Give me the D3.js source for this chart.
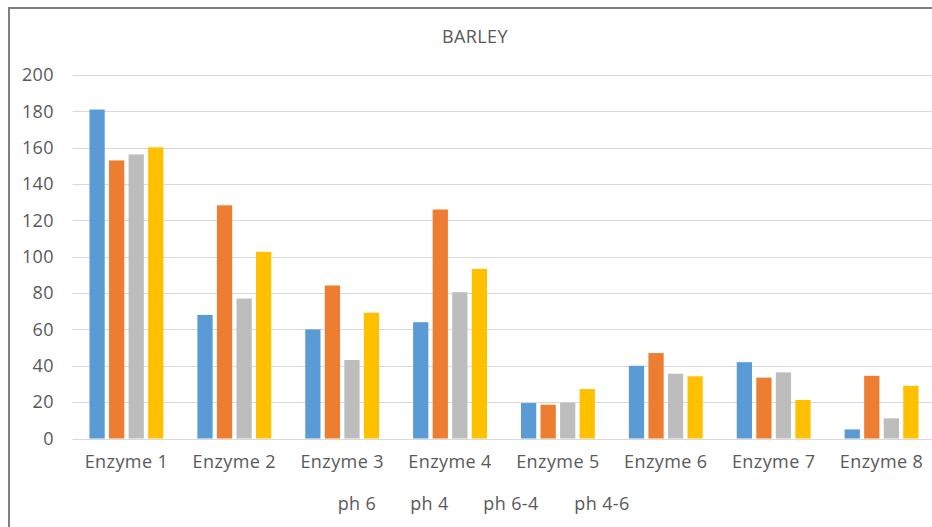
<!DOCTYPE html>
<html>
<head>
<meta charset="utf-8">
<script src="https://cdn.jsdelivr.net/npm/d3@7"></script>
<style>
  html, body { margin: 0; padding: 0; background: #fff; }
  svg { display: block; font-family: "Open Sans", sans-serif; }
</style>
</head>
<body>
<svg id="chart" width="932" height="527"></svg>
<script>
// Barley enzyme activity by pH treatment
const categories = ["Enzyme 1", "Enzyme 2", "Enzyme 3", "Enzyme 4", "Enzyme 5", "Enzyme 6", "Enzyme 7", "Enzyme 8"];
const seriesNames = ["ph 6", "ph 4", "ph 6-4", "ph 4-6"];
const ph6  = [181, 68, 60, 64, 19.5, 40, 42, 5];
const ph4  = [153, 128.3, 84.2, 126, 18.6, 47, 33.5, 34.5];
const ph64 = [156.3, 77, 43.2, 80.5, 19.7, 35.6, 36.4, 11.1];
const ph46 = [160.2, 102.7, 69.2, 93.3, 27.2, 34.2, 21.2, 29];
const yTicks = [0, 20, 40, 60, 80, 100, 120, 140, 160, 180, 200];
const colors = ["#5B9BD5", "#ED7D31", "#BDBDBD", "#FFC000"];
const title = "BARLEY";

const seriesValues = [ph6, ph4, ph64, ph46];
const svg = d3.select("#chart");
const textColor = "#595959";
const fontSize = 18;
const tracking = 0.4;

// Outer chart frame (left and top edges visible)
svg.append("path")
  .attr("d", "M9,527 V8 H932")
  .attr("fill", "none")
  .attr("stroke", "#7f7f7f")
  .attr("stroke-width", 2);

const x = d3.scaleBand().domain(categories).range([72.5, 935.5]).paddingInner(0.315).paddingOuter(0.1575);
const xs = d3.scaleBand().domain(d3.range(seriesNames.length)).range([0, x.bandwidth()]).paddingInner(0.22);
const y = d3.scaleLinear().domain([0, 200]).range([438.5, 75]);

// Gridlines
svg.append("g")
  .selectAll("line")
  .data(yTicks)
  .join("line")
  .attr("x1", 72.5).attr("x2", 932)
  .attr("y1", d => Math.round(y(d)) + 0.5).attr("y2", d => Math.round(y(d)) + 0.5)
  .attr("stroke", "#d9d9d9").attr("stroke-width", 1);

// Y tick labels
svg.append("g")
  .selectAll("text")
  .data(yTicks)
  .join("text")
  .attr("x", 54).attr("y", d => y(d))
  .attr("dy", "0.35em")
  .attr("text-anchor", "end")
  .attr("fill", textColor)
  .attr("font-size", fontSize)
  .attr("letter-spacing", tracking)
  .text(d => d);

// Bars
const groups = svg.append("g")
  .selectAll("g")
  .data(categories)
  .join("g")
  .attr("transform", d => `translate(${x(d)},0)`);

groups.selectAll("rect")
  .data((d, i) => seriesValues.map((vals, s) => ({ s, v: vals[i] })))
  .join("rect")
  .attr("x", d => xs(d.s))
  .attr("width", xs.bandwidth())
  .attr("y", d => y(d.v))
  .attr("height", d => y(0) - y(d.v))
  .attr("fill", d => colors[d.s]);

// Category labels
svg.append("g")
  .selectAll("text")
  .data(categories)
  .join("text")
  .attr("x", d => x(d) + x.bandwidth() / 2)
  .attr("y", 468)
  .attr("text-anchor", "middle")
  .attr("fill", textColor)
  .attr("font-size", fontSize)
  .attr("letter-spacing", tracking)
  .text(d => d);

// Title
svg.append("text")
  .attr("x", 475).attr("y", 43)
  .attr("text-anchor", "middle")
  .attr("fill", textColor)
  .attr("font-size", fontSize)
  .attr("letter-spacing", tracking)
  .text(title);

// Legend (text entries)
const legendX = [357, 429.5, 511, 602];
svg.append("g")
  .selectAll("text")
  .data(seriesNames)
  .join("text")
  .attr("x", (d, i) => legendX[i])
  .attr("y", 510)
  .attr("text-anchor", "middle")
  .attr("fill", textColor)
  .attr("font-size", fontSize)
  .attr("letter-spacing", tracking)
  .text(d => d);
</script>
</body>
</html>
